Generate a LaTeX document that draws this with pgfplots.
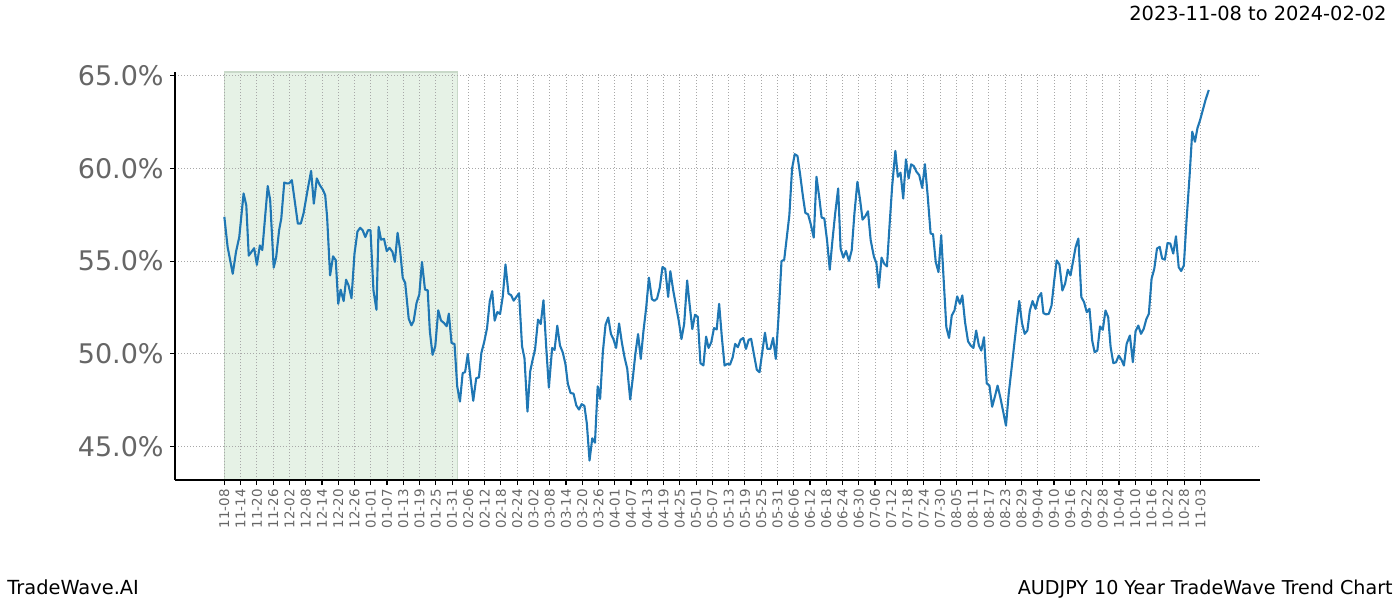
\documentclass[border=0pt]{standalone}
\usepackage{fontspec}
\setmainfont{DejaVu Sans}
\usepackage{pgfplots}
\pgfplotsset{compat=1.18}
\definecolor{lineblue}{HTML}{1F77B4}
\definecolor{shade}{HTML}{E6F2E6}
\definecolor{shadeedge}{HTML}{C9D9C9}
\definecolor{tickgray}{HTML}{666666}
\definecolor{gridgray}{HTML}{A8A8A8}
\begin{document}
\begin{tikzpicture}
\path (0pt,0pt) rectangle (700pt,300pt);
\begin{axis}[
  at={(87.5pt,60pt)}, anchor=south west,
  width=542.5pt, height=204pt, scale only axis,
  set layers=standard,
  xmin=-18.2, xmax=382, ymin=43.2, ymax=65.2,
  axis x line*=bottom, axis y line*=left,
  axis line style={-, black, line width=0.55pt},
  tick align=outside, major tick length=2.5pt,
  tick style={black, line width=0.55pt},
  xtick={0,6,...,360},
  xticklabels={11-08,11-14,11-20,11-26,12-02,12-08,12-14,12-20,12-26,01-01,01-07,01-13,01-19,01-25,01-31,02-06,02-12,02-18,02-24,03-02,03-08,03-14,03-20,03-26,04-01,04-07,04-13,04-19,04-25,05-01,05-07,05-13,05-19,05-25,05-31,06-06,06-12,06-18,06-24,06-30,07-06,07-12,07-18,07-24,07-30,08-05,08-11,08-17,08-23,08-29,09-04,09-10,09-16,09-22,09-28,10-04,10-10,10-16,10-22,10-28,11-03},
  ytick={45,50,55,60,65},
  yticklabels={45.0\%,50.0\%,55.0\%,60.0\%,65.0\%},
  xticklabel style={yshift=-2pt, rotate=90, anchor=east, inner sep=0pt, font=\fontsize{6.7}{8}\selectfont, text=tickgray},
  yticklabel style={anchor=east, inner sep=0pt, font=\fontsize{13.5}{16}\selectfont, text=tickgray, xshift=-3pt},
  grid=major,
  major grid style={gridgray, line width=0.45pt, dash pattern=on 0.5pt off 1pt},
]
\addplot[fill=shade, draw=shadeedge, line width=0.8pt, on layer=axis background] coordinates {(0,43.2) (86,43.2) (86,65.2) (0,65.2)} -- cycle;
\addplot[lineblue, line width=1.05pt, line join=round] coordinates {
(0,57.39) (1.2,55.77) (3.1,54.32) (4.3,55.5) (5.5,56.3) (7.1,58.65) (8.1,58.0) (9,55.3) (11,55.7) (12,54.8)
(13.1,55.85) (14,55.6) (16,59.05) (16.9,58.3) (18.2,54.65) (19.1,55.2) (20.2,56.67) (21,57.3) (22.1,59.24) (23.1,59.19)
(23.9,59.2) (24.9,59.37) (26.1,58.1) (27.1,57.03) (28.2,57.03) (29.2,57.57) (30.7,58.83) (32,59.87) (33,58.1) (34.1,59.46)
(35.2,59.1) (36.3,58.86) (37.2,58.56) (37.9,57.39) (39,54.23) (40.1,55.26) (41.1,55.05) (42,52.7) (42.9,53.46) (44,52.85)
(44.9,54.0) (45.8,53.7) (46.9,53.0) (48,55.4) (49.1,56.6) (50.1,56.8) (51,56.67) (52,56.3) (53,56.67) (53.9,56.67)
(55,53.42) (56.1,52.38) (56.9,56.85) (57.8,56.16) (58.9,56.2)
(59.9,55.54) (60.9,55.72) (62,55.5) (62.9,54.96) (63.9,56.53) (64.8,55.63) (65.8,54.1) (66.7,53.83) (68,51.9) (69,51.54)
(69.8,51.76) (70.9,52.75) (71.9,53.2) (72.9,54.96) (74,53.47) (75,53.43) (75.8,51.22) (76.8,49.95) (77.8,50.41) (78.9,52.35)
(79.9,51.8) (81,51.67) (82,51.49) (82.8,52.17) (83.8,50.59) (84.9,50.53) (85.9,48.24) (86.9,47.43) (87.9,48.96) (88.8,49.02)
(89.8,49.99) (90.8,48.69) (91.8,47.47) (92.9,48.69) (93.9,48.73) (94.8,50.05) (95.9,50.68) (96.9,51.4) (97.9,52.84) (98.8,53.38)
(99.7,51.79) (100.7,52.26) (101.7,52.15) (102.7,53.1) (103.7,54.82) (104.8,53.25) (105.8,53.16) (106.7,52.87) (107.7,53.07) (108.7,53.27)
(109.8,50.41) (110.7,49.77) (111.8,46.89) (112.8,49.05) (113.7,49.68) (114.6,50.23) (115.7,51.85) (116.7,51.61) (117.7,52.89)
(118.8,50.18) (119.7,48.18) (120.9,50.32) (121.8,50.21) (122.8,51.52) (123.8,50.45) (124.8,50.09) (125.8,49.46) (126.7,48.39) (127.7,47.89)
(128.8,47.86) (129.8,47.23) (130.8,47.0) (131.8,47.29) (132.8,47.2) (133.7,46.25) (134.7,44.25) (135.7,45.45) (136.7,45.21) (137.7,48.25)
(138.6,47.57) (139.6,50.09) (140.6,51.57) (141.6,51.96) (142.6,51.07) (143.5,50.8) (144.5,50.32) (145.6,51.64) (146.6,50.63) (147.6,49.82)
(148.6,49.2) (149.7,47.54) (150.7,48.75) (151.6,50.0) (152.6,51.07) (153.6,49.73) (154.6,51.25) (155.6,52.5) (156.6,54.11) (157.7,52.95)
(158.6,52.86) (159.6,52.98) (160.6,53.57) (161.6,54.68) (162.6,54.59) (163.7,53.07) (164.5,54.46) (165.6,53.39) (166.6,52.59) (167.6,51.79)
(168.6,50.8) (169.6,51.61) (170.7,53.96) (171.6,52.68) (172.6,51.34) (173.6,52.11) (174.6,52.0) (175.6,49.5) (176.7,49.38) (177.7,50.93)
(178.6,50.32) (179.6,50.63) (180.6,51.39)
(181.6,51.32) (182.5,52.7) (183.5,50.9) (184.5,49.37) (185.5,49.46) (186.5,49.42) (187.5,49.82) (188.4,50.54) (189.4,50.36) (190.4,50.76)
(191.4,50.86) (192.4,50.27) (193.4,50.76) (194.3,50.81) (195.3,50.0) (196.4,49.14) (197.4,49.01) (198.4,50.09) (199.4,51.14) (200.3,50.27)
(201.4,50.27) (202.4,50.86) (203.4,49.73) (204.4,51.98) (205.5,55.0) (206.5,55.08) (207.5,56.34) (208.4,57.48) (209.4,60.0) (210.4,60.77)
(211.4,60.67) (212.4,59.64) (213.4,58.5) (214.3,57.6) (215.3,57.53) (216.3,56.99) (217.4,56.27) (218.4,59.55) (219.4,58.47) (220.3,57.35)
(221.3,57.3) (222.3,56.13) (223.3,54.54) (224.3,56.13) (225.3,57.57) (226.4,58.92) (227.3,55.68) (228.3,55.19) (229.3,55.55) (230.4,55.01)
(231.4,55.59) (232.4,57.57) (233.5,59.28) (234.5,58.29) (235.4,57.24) (236.4,57.42) (237.4,57.69) (238.4,56.13)
(239.6,55.23) (240.5,54.9) (241.4,53.57) (242.4,55.19) (243.4,54.86) (244.4,54.72) (245.4,57.03) (246.3,59.01) (247.5,60.95) (248.4,59.55)
(249.4,59.77) (250.4,58.38) (251.4,60.49) (252.4,59.46) (253.3,60.22) (254.3,60.13) (255.3,59.82) (256.3,59.64) (257.4,58.95) (258.4,60.23)
(259.4,58.56) (260.5,56.49) (261.4,56.45) (262.4,54.95) (263.4,54.41) (264.4,56.4) (265.4,53.78) (266.3,51.44) (267.3,50.86) (268.3,52.07)
(269.3,52.34) (270.3,53.1) (271.3,52.7) (272.2,53.15) (273.2,51.71) (274.3,50.68) (275.3,50.45) (276.3,50.32) (277.3,51.26) (278.3,50.45)
(279.2,50.18) (280.2,50.9) (281.2,48.41) (282.2,48.29) (283.2,47.15) (284.3,47.75) (285.2,48.29) (286.2,47.66) (287.2,46.94) (288.3,46.13)
(289.3,47.84) (290.3,49.14) (291.3,50.45) (292.2,51.62) (293.2,52.85) (294.2,51.66) (295.2,51.08) (296.2,51.26) (297.1,52.34) (298.1,52.85)
(299.2,52.43)
(300.3,53.06) (301.3,53.28) (302.1,52.2) (303.1,52.13) (304.1,52.16) (305.1,52.61) (306.1,53.96) (307.0,55.04) (308.0,54.83) (309.1,53.42)
(310.1,53.78) (311.1,54.54) (312.1,54.23) (313.1,55.04) (314.0,55.77) (315.0,56.22) (316.1,53.06) (317.1,52.79) (318.1,52.25) (319.1,52.43)
(320.1,50.72) (321.0,50.09) (322.0,50.18) (323.0,51.48) (324.0,51.3) (325.0,52.34) (326.0,51.98) (326.9,50.36) (327.9,49.5) (328.9,49.55)
(329.9,49.91) (330.9,49.68) (331.8,49.37) (332.8,50.54) (334.0,50.99) (335.1,49.55) (336.1,51.23) (337.1,51.53) (338.1,51.08) (339.1,51.35)
(340.1,51.89) (341.0,52.16) (342.0,54.05) (343.0,54.59) (344.0,55.68) (345.0,55.77) (345.9,55.14) (346.9,55.08) (347.9,55.98) (348.9,55.95)
(350.0,55.41) (351.0,56.34) (352.0,54.68) (352.9,54.47) (353.9,54.77) (354.9,57.21) (356.0,59.55) (357.0,61.98) (358.0,61.44) (358.9,62.16)
(359.9,62.61) (360.9,63.15) (361.9,63.69) (363.1,64.23)
};
\end{axis}
\node[anchor=base east, font=\fontsize{9.7}{12}\selectfont, inner sep=0pt] at (693.5pt,289.5pt) {2023-11-08 to 2024-02-02};
\node[anchor=base west, font=\fontsize{9.7}{12}\selectfont, inner sep=0pt] at (3.5pt,2.7pt) {TradeWave.AI};
\node[anchor=base east, font=\fontsize{9.55}{12}\selectfont, inner sep=0pt] at (696.5pt,2.7pt) {AUDJPY 10 Year TradeWave Trend Chart};
\end{tikzpicture}
\end{document}
